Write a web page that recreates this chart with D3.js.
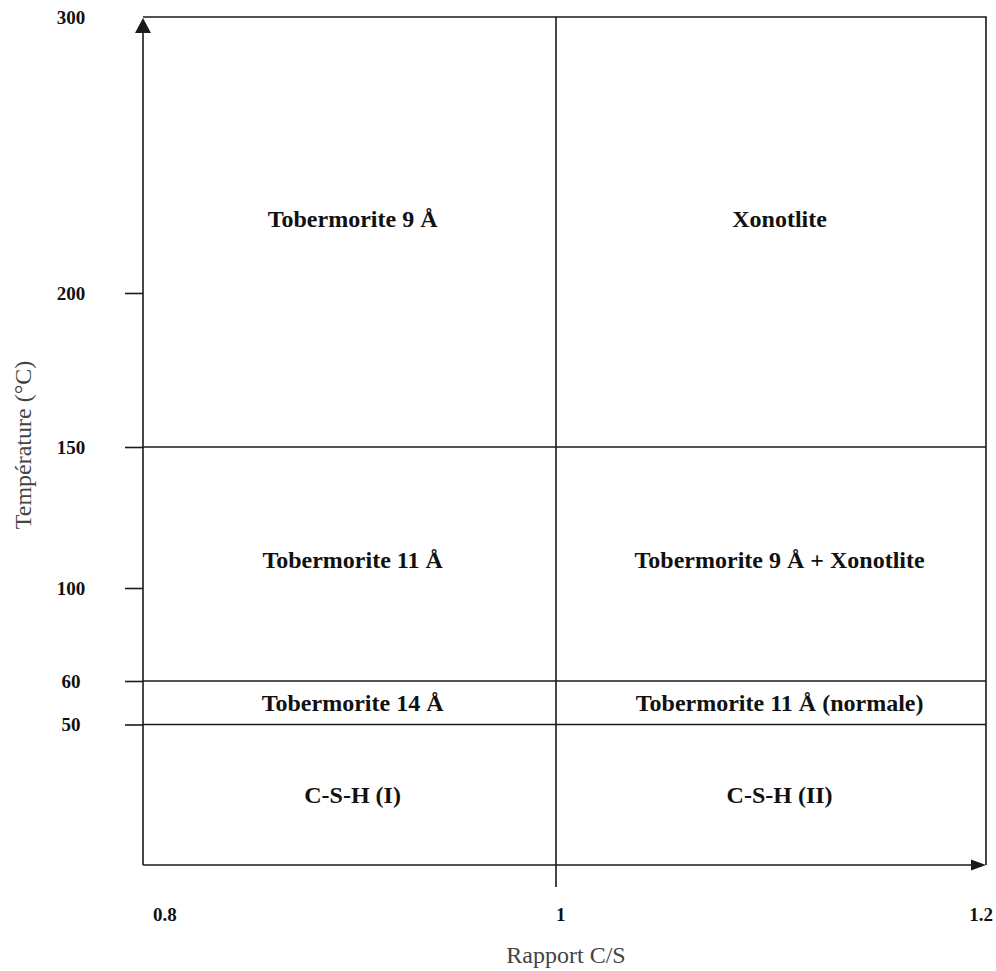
<!DOCTYPE html>
<html>
<head>
<meta charset="utf-8">
<script src="https://cdn.jsdelivr.net/npm/d3@7"></script>
<style>
  html, body { margin: 0; padding: 0; background: #fff; }
  svg { display: block; }
  text { font-family: "Liberation Serif", "Times New Roman", serif; }
</style>
</head>
<body>
<svg id="chart" width="996" height="971"></svg>
<script>
// ---- data ----
const csTicks = [0.8, 1, 1.2];                 // C/S ratio tick labels
const tempTicks = [300, 200, 150, 100, 60, 50]; // temperature tick labels (°C)
const tempTickMarks = [200, 150, 100, 60, 50];  // ticks drawn on the axis
const tempBoundaries = [150, 60, 50];           // phase boundaries (horizontal)
const csBoundaries = [1];                       // phase boundary (vertical)
const phaseNames = [
  "Tobermorite 9 Å", "Xonotlite",
  "Tobermorite 11 Å", "Tobermorite 9 Å + Xonotlite",
  "Tobermorite 14 Å", "Tobermorite 11 Å (normale)",
  "C-S-H (I)", "C-S-H (II)"
];
const phaseCS = [0.9015, 1.104, 0.9015, 1.104, 0.9015, 1.104, 0.9015, 1.104];
const phaseTemp = [227, 227, 110, 110, 55, 55, 25, 25];
const xTitle = "Rapport C/S";
const yTitle = "Température (°C)";

// ---- scales (the original axes are not uniform) ----
const x = d3.scaleLinear().domain([0.8, 1, 1.2]).range([143, 556, 986]);
const y = d3.scaleLinear().domain([0, 50, 60, 100, 150, 200, 300])
  .range([865, 724.5, 681, 588, 447, 293, 17]);

const svg = d3.select("#chart");
const ink = "#1a1a1a";
const x0 = x(0.8), x1 = x(1.2), yb = y(0), yt = y(300);

// frame top & right
svg.append("path")
  .attr("d", `M${x0},${yt}H${x1}V${yb}`)
  .attr("fill", "none").attr("stroke", ink).attr("stroke-width", 1.6);

// y axis with ticks
const yAxis = d3.axisLeft(y).tickValues(tempTickMarks).tickSize(18).tickFormat("");
const gy = svg.append("g").attr("transform", `translate(${x0},0)`).call(yAxis);
gy.select(".domain").remove();
gy.selectAll(".tick line").attr("stroke", ink).attr("stroke-width", 1.6);
svg.append("line").attr("x1", x0).attr("x2", x0).attr("y1", yb).attr("y2", yt + 12)
  .attr("stroke", ink).attr("stroke-width", 1.6);
svg.append("path")
  .attr("d", `M${x0},${yt + 1}L${x0 - 8},${yt + 16}L${x0 + 8},${yt + 16}Z`)
  .attr("fill", ink);

// x axis
svg.append("line").attr("x1", x0).attr("x2", x1 - 12).attr("y1", yb).attr("y2", yb)
  .attr("stroke", ink).attr("stroke-width", 1.6);
svg.append("path")
  .attr("d", `M${x1},${yb}L${x1 - 15},${yb - 5.5}L${x1 - 15},${yb + 5.5}Z`)
  .attr("fill", ink);

// horizontal phase boundaries
svg.selectAll("line.hb").data(tempBoundaries).join("line").attr("class", "hb")
  .attr("x1", x0).attr("x2", x1).attr("y1", d => y(d)).attr("y2", d => y(d))
  .attr("stroke", ink).attr("stroke-width", 1.6);

// vertical phase boundary (extends below axis as a tick)
svg.selectAll("line.vb").data(csBoundaries).join("line").attr("class", "vb")
  .attr("x1", d => x(d)).attr("x2", d => x(d)).attr("y1", yt).attr("y2", yb + 22)
  .attr("stroke", ink).attr("stroke-width", 1.6);

// y tick labels
svg.selectAll("text.yt").data(tempTicks).join("text").attr("class", "yt")
  .attr("x", 71).attr("y", d => y(d)).attr("dy", "0.35em")
  .attr("text-anchor", "middle").attr("font-size", 19).attr("font-weight", "bold")
  .attr("fill", "#111").text(d => d);

// x tick labels
svg.selectAll("text.xt").data(csTicks).join("text").attr("class", "xt")
  .attr("x", (d, i) => x(d) + (i === 0 ? 10 : i === csTicks.length - 1 ? 7 : 0))
  .attr("y", 921)
  .attr("text-anchor", (d, i) => i === csTicks.length - 1 ? "end" : "start")
  .attr("font-size", 19).attr("font-weight", "bold").attr("fill", "#111")
  .text(d => d);

// phase labels
svg.selectAll("text.ph").data(phaseNames).join("text").attr("class", "ph")
  .attr("x", (d, i) => x(phaseCS[i])).attr("y", (d, i) => y(phaseTemp[i]))
  .attr("dy", "0.35em").attr("text-anchor", "middle")
  .attr("font-size", 24).attr("font-weight", "bold").attr("fill", "#111")
  .text(d => d);

// axis titles
svg.append("text").attr("x", 566).attr("y", 963).attr("text-anchor", "middle")
  .attr("font-size", 24).attr("fill", "#444").text(xTitle);
svg.append("text").attr("transform", "translate(31,445) rotate(-90)")
  .attr("text-anchor", "middle").attr("font-size", 24).attr("fill", "#444").text(yTitle);
</script>
</body>
</html>
